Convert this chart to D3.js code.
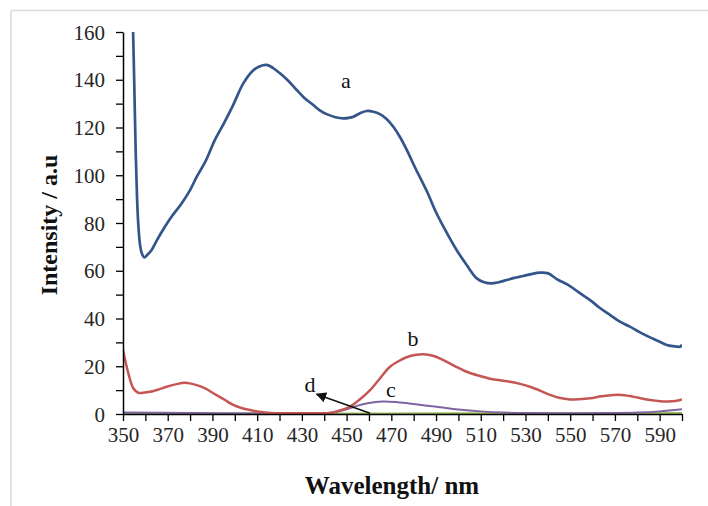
<!DOCTYPE html>
<html>
<head>
<meta charset="utf-8">
<script src="https://cdn.jsdelivr.net/npm/d3@7"></script>
<style>
  html, body { margin: 0; padding: 0; background: #fff; }
  svg { display: block; }
  text { font-family: "Liberation Serif", "Times New Roman", serif; }
</style>
</head>
<body>
<svg id="chart" width="708" height="506"></svg>
<script>
// ---------- data ----------
const xTickLabels = [350, 370, 390, 410, 430, 450, 470, 490, 510, 530, 550, 570, 590];
const yTickLabels = [0, 20, 40, 60, 80, 100, 120, 140, 160];

const aWavelength = [354.4, 355.0, 355.7, 356.3, 356.9, 357.6, 358.4, 359.5, 361, 362.8, 365, 368.8, 372, 376.2, 380, 383, 387, 391.1, 395, 399.3, 403.8, 408.3, 411, 414.3, 417, 420.2, 424, 427.7, 431, 435.1, 438, 441.1, 445, 448.5, 451, 453, 456, 459, 462, 464.9, 468, 470.9, 474, 476.9, 481, 485.8, 490, 493.3, 499.2, 503.7, 508.2, 511.5, 514.9, 518, 521.6, 525, 529, 532.5, 536.5, 540.2, 544, 549.9, 554, 558.9, 563, 567.8, 572, 576.7, 581, 585.7, 590, 593.2, 596, 599, 600];
const aIntensity  = [165, 140, 109, 90, 78.5, 71, 67.3, 65.6, 66.8, 68.7, 72.5, 78.5, 83, 88.2, 93.8, 99.4, 106, 114.8, 121.5, 129.5, 138.5, 144, 145.6, 146.2, 145, 142.7, 139.5, 135.7, 132.5, 129.4, 127.2, 125.6, 124.3, 123.8, 124, 124.5, 126, 126.9, 126.6, 125.6, 123.5, 120.3, 115.8, 110.6, 102.5, 93.5, 84.5, 78.5, 68.7, 62.4, 56.8, 55.2, 54.7, 55.2, 56.1, 57, 57.8, 58.6, 59.2, 58.9, 56.5, 53.6, 50.8, 47.7, 44.6, 41.5, 38.8, 36.6, 34.3, 32.1, 30.3, 28.9, 28.4, 28.2, 28.9];

const bWavelength = [350, 352.4, 354.6, 356.8, 359, 362.1, 366, 369.5, 373.5, 377.7, 383, 387, 390.4, 395, 399.3, 403, 406.8, 411, 416, 425, 435, 442.6, 446, 451.5, 456, 460.5, 465, 469.4, 474, 478.4, 484.3, 489, 493.3, 498, 503.7, 509.7, 514.1, 518, 523.1, 528, 532, 537, 541, 545, 549.9, 554, 558.9, 564, 569.3, 573, 576.7, 580, 584.2, 589, 593.2, 597, 600];
const bIntensity  = [26.8, 17, 10.8, 8.9, 8.9, 9.3, 10.3, 11.4, 12.4, 13.1, 12.1, 10.6, 8.7, 6.2, 3.8, 2.5, 1.7, 0.9, 0.4, 0.3, 0.3, 0.4, 1.2, 3.1, 6.2, 10, 15, 19.8, 22.5, 24.3, 25, 24.3, 22.6, 20.3, 17.7, 15.9, 14.8, 14.2, 13.5, 12.5, 11.4, 9.6, 8, 6.8, 6.1, 6.2, 6.6, 7.4, 8, 8, 7.5, 6.9, 6.1, 5.5, 5.2, 5.4, 6.1];

const cWavelength = [350, 380, 410, 440, 445, 450, 455, 460, 466, 472, 478, 485, 492, 500, 510, 520, 530, 550, 570, 580, 590, 600];
const cIntensity  = [0.6, 0.4, 0.2, 0.3, 0.8, 2, 3.5, 4.6, 5.2, 5, 4.4, 3.6, 2.8, 1.9, 1.1, 0.6, 0.4, 0.3, 0.4, 0.6, 1.1, 2];

const dWavelength = [350, 400, 450, 500, 550, 600];
const dIntensity  = [0.3, 0.3, 0.2, 0.3, 0.3, 0.4];

const seriesNames = ["a", "b", "c", "d"];
const seriesColors = ["#34558a", "#c45654", "#8064a2", "#9bbb59"];

// ---------- layout ----------
const svg = d3.select("#chart");
const x = d3.scaleLinear().domain([350, 600]).range([123, 682]);
const y = d3.scaleLinear().domain([0, 160]).range([414, 32]);

// outer frame (light grey)
svg.append("line").attr("x1", 11).attr("x2", 708).attr("y1", 10.5).attr("y2", 10.5)
  .attr("stroke", "#d9d9d9").attr("stroke-width", 1.5);
svg.append("line").attr("x1", 11).attr("x2", 11).attr("y1", 10.5).attr("y2", 506)
  .attr("stroke", "#d9d9d9").attr("stroke-width", 1.5);

svg.append("clipPath").attr("id", "plotclip").append("rect")
  .attr("x", x(350)).attr("y", y(160)).attr("width", x(600) - x(350)).attr("height", y(0) - y(160));

const line = d3.line().x(d => x(d[0])).y(d => y(d[1])).curve(d3.curveCatmullRom.alpha(0.5));

const series = [
  { name: "d", xs: dWavelength, ys: dIntensity, color: seriesColors[3], w: 2 },
  { name: "c", xs: cWavelength, ys: cIntensity, color: seriesColors[2], w: 2 },
  { name: "b", xs: bWavelength, ys: bIntensity, color: seriesColors[1], w: 2.5 },
  { name: "a", xs: aWavelength, ys: aIntensity, color: seriesColors[0], w: 2.7 }
];

const plot = svg.append("g").attr("clip-path", "url(#plotclip)");
series.forEach(s => {
  plot.append("path")
    .datum(s.xs.map((v, i) => [v, s.ys[i]]))
    .attr("fill", "none")
    .attr("stroke", s.color)
    .attr("stroke-width", s.w)
    .attr("stroke-linejoin", "round")
    .attr("d", line);
});

// ---------- axes ----------
const xAxis = d3.axisBottom(x)
  .tickValues(d3.range(350, 601, 10))
  .tickFormat(d => xTickLabels.includes(d) ? String(d) : "")
  .tickSize(7).tickSizeOuter(0).tickPadding(6);
const gx = svg.append("g").attr("transform", `translate(0,${y(0)})`).call(xAxis);

const yAxis = d3.axisLeft(y)
  .tickValues(d3.range(0, 161, 10))
  .tickFormat(d => yTickLabels.includes(d) ? String(d) : "")
  .tickSize(7).tickSizeOuter(0).tickPadding(11);
const gy = svg.append("g").attr("transform", `translate(${x(350)},0)`).call(yAxis);

[gx, gy].forEach(g => {
  g.select(".domain").attr("stroke", "#000").attr("stroke-width", 1.5);
  g.selectAll(".tick line").attr("stroke", "#000").attr("stroke-width", 1.3);
  g.selectAll(".tick text")
    .style("font-family", '"Liberation Serif", "Times New Roman", serif')
    .style("font-size", "21px").attr("fill", "#262626");
});
gy.selectAll(".tick text").attr("dy", "0.34em");

// ---------- titles ----------
svg.append("text")
  .attr("x", 392).attr("y", 494)
  .attr("text-anchor", "middle")
  .style("font-size", "25px").style("font-weight", "bold")
  .attr("fill", "#111")
  .text("Wavelength/ nm");

svg.append("text")
  .attr("transform", "translate(57,225) rotate(-90)")
  .attr("text-anchor", "middle")
  .style("font-size", "24px").style("font-weight", "bold")
  .attr("fill", "#111")
  .text("Intensity / a.u");

// ---------- series annotations ----------
const labelStyle = sel => sel.attr("text-anchor", "middle").style("font-size", "22px").attr("fill", "#111");
svg.append("text").attr("x", x(449.7)).attr("y", y(136.5)).text(seriesNames[0]).call(labelStyle);
svg.append("text").attr("x", x(479.7)).attr("y", y(28.5)).text(seriesNames[1]).call(labelStyle);
svg.append("text").attr("x", x(469.8)).attr("y", y(7.2)).text(seriesNames[2]).call(labelStyle);
svg.append("text").attr("x", x(433.6)).attr("y", y(9.4)).text(seriesNames[3]).call(labelStyle);

svg.append("defs").append("marker")
  .attr("id", "arrowhead").attr("viewBox", "0 0 10 10")
  .attr("refX", 9).attr("refY", 5)
  .attr("markerWidth", 7).attr("markerHeight", 7)
  .attr("orient", "auto")
  .append("path").attr("d", "M0,0 L10,5 L0,10 z").attr("fill", "#111");

svg.append("line")
  .attr("x1", x(460.5)).attr("y1", y(0.3))
  .attr("x2", x(436.6)).attr("y2", y(8.3))
  .attr("stroke", "#111").attr("stroke-width", 1.5)
  .attr("marker-end", "url(#arrowhead)");
</script>
</body>
</html>
